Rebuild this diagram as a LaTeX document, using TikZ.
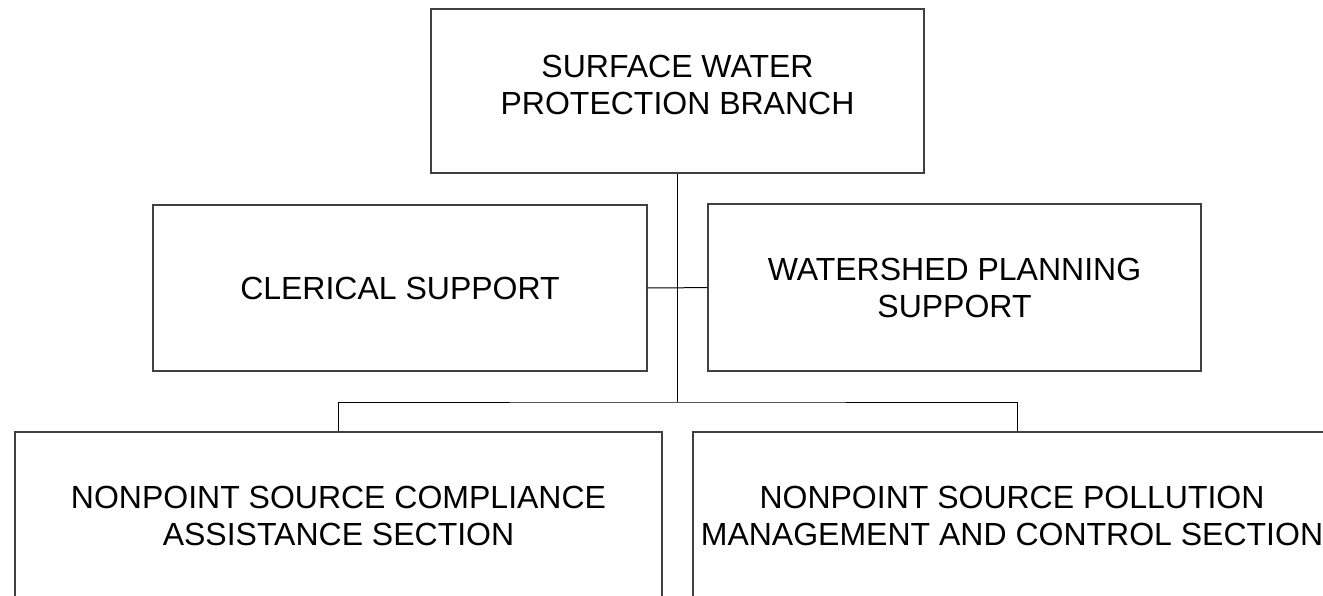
\documentclass[tikz,border=0pt]{standalone}
\usepackage{fontspec}
\setmainfont{Liberation Sans}
\tikzset{
  unit/.style={draw=black!75, line width=1.2pt, align=center, inner sep=0pt,
    font=\fontsize{32}{37}\selectfont},
  link/.style={draw=black, line width=1pt},
}
\begin{document}
\begin{tikzpicture}[x=1pt,y=-1pt]
	\clip (0,0) rectangle (1323,595);
	\node[unit, minimum width=493, minimum height=164] (branch) at (677.5,91) {SURFACE WATER\\PROTECTION BRANCH\rule[-12pt]{0pt}{0pt}};
	\node[unit, minimum width=494, minimum height=166] (clerical) at (400,288) {CLERICAL SUPPORT};
	\node[unit, minimum width=493, minimum height=167] (watershed) at (954.5,287.5) {WATERSHED PLANNING\\SUPPORT};
	\node[unit, minimum width=647, minimum height=167] (compliance) at (338.5,515.5) {NONPOINT SOURCE COMPLIANCE\\ASSISTANCE SECTION};
	\node[unit, minimum width=648, minimum height=167] (pollution) at (1017,515.5) {NONPOINT SOURCE POLLUTION\hspace*{10pt}\\MANAGEMENT AND CONTROL SECTION\hspace*{10pt}};
	\coordinate (bus) at (677.5,402);
	\draw[link] (branch) -- (bus);
	\draw[link] (clerical) -- (watershed);
	\draw[link] (compliance.north) |- (bus) -| (pollution.north);
\end{tikzpicture}
\end{document}
